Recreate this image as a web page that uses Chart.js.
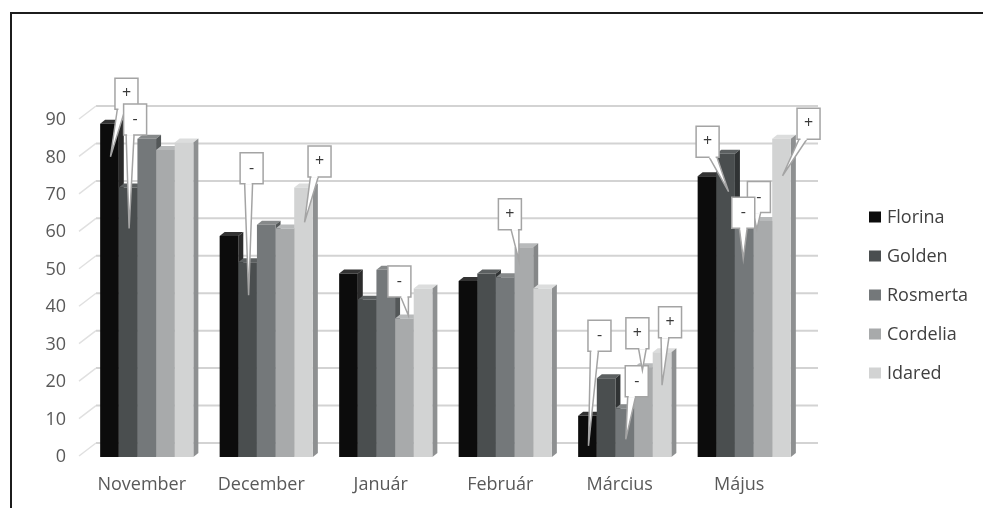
<!DOCTYPE html>
<html>
<head>
<meta charset="utf-8">
<script src="https://cdn.jsdelivr.net/npm/chart.js@4/dist/chart.umd.min.js"></script>
<style>
  html, body { margin: 0; padding: 0; background: #ffffff; }
  #wrap { width: 983px; height: 508px; position: relative; }
</style>
</head>
<body>
<div id="wrap"><canvas id="c" width="983" height="508"></canvas></div>
<script>
// Monthly values per apple variety
const categories = ['November', 'December', 'Január', 'Február', 'Március', 'Május'];
const seriesNames = ['Florina', 'Golden', 'Rosmerta', 'Cordelia', 'Idared'];
const florina  = [89, 59, 49, 47, 11, 75];
const golden   = [72, 52, 42, 49, 21, 81];
const rosmerta = [85, 62, 50, 48, 13, 66];
const cordelia = [82, 61, 37, 56, 24, 63];
const idared   = [84, 72, 45, 45, 28, 85];
const yTicks   = [0, 10, 20, 30, 40, 50, 60, 70, 80, 90];

// Significance markers: [category index, series index, sign]
const markers = [
  [0, 0, '+'], [0, 1, '-'],
  [1, 1, '-'], [1, 4, '+'],
  [2, 3, '-'],
  [3, 3, '+'],
  [4, 0, '-'], [4, 2, '-'], [4, 3, '+'], [4, 4, '+'],
  [5, 3, '-'], [5, 2, '-'], [5, 1, '+'], [5, 4, '+']
];
// Callout placement relative to the bar top: box centre and pointer tip (px)
const markerLayout = [
  { box: [17, -30], tip: [1, 33] },  { box: [7, -68], tip: [1, 41] },
  { box: [4, -94], tip: [1, 33] },   { box: [16, -26], tip: [1, 35] },
  { box: [-5, -37], tip: [4, -3] },
  { box: [-14, -33], tip: [-5, 13] },
  { box: [12, -80], tip: [1, 30] },  { box: [12, -27], tip: [1, 31] },
  { box: [-6, -34], tip: [-1, 3] },  { box: [8, -30], tip: [0, 33] },
  { box: [-4, -24], tip: [-6, 8] },  { box: [-1, 3], tip: [-1, 49] },
  { box: [-18, -12], tip: [3, 38] }, { box: [27, -15], tip: [1, 37] }
];

const seriesValues = [florina, golden, rosmerta, cordelia, idared];
const frontColors = ['#0c0c0c', '#4a4e4f', '#74787a', '#a8aaab', '#d2d3d3'];
const sideColors  = ['#2b2b2b', '#303334', '#535758', '#858788', '#8e9091'];
const topColors   = ['#333333', '#5c6061', '#86898a', '#b8babb', '#dcdddd'];

const FONT = "'Open Sans', 'DejaVu Sans', sans-serif";
const DEPTH = { dx: 5, dy: 4 };
const WALL = { dx: 17, dy: 13 };

// White page with the dark frame line on top and left
const framePlugin = {
  id: 'frame',
  beforeDraw(chart) {
    const ctx = chart.ctx;
    ctx.save();
    ctx.fillStyle = '#ffffff';
    ctx.fillRect(0, 0, chart.width, chart.height);
    ctx.strokeStyle = '#1c1c1c';
    ctx.lineWidth = 2;
    ctx.beginPath();
    ctx.moveTo(chart.width, 13);
    ctx.lineTo(11, 13);
    ctx.lineTo(11, chart.height);
    ctx.stroke();
    ctx.restore();
  }
};

// Back-wall gridlines and side-wall slants, then the 3D bar faces
const wallAndDepthPlugin = {
  id: 'wallAndDepth',
  beforeDatasetsDraw(chart) {
    const ctx = chart.ctx;
    const area = chart.chartArea;
    const ys = chart.scales.y;
    ctx.save();
    ys.ticks.forEach(t => {
      const yf = ys.getPixelForValue(t.value) - 1;
      const yb = yf - WALL.dy;
      ctx.strokeStyle = '#d3d3d3';
      ctx.lineWidth = 2;
      ctx.beginPath();
      ctx.moveTo(area.left + 9, yb);
      ctx.lineTo(area.right + 14, yb);
      ctx.stroke();
      ctx.strokeStyle = '#e0e0e0';
      ctx.lineWidth = 1.5;
      ctx.beginPath();
      ctx.moveTo(area.left - 8, yf);
      ctx.lineTo(area.left + 9, yb);
      ctx.stroke();
    });

    const metas = chart.data.datasets.map((d, i) => chart.getDatasetMeta(i));
    for (let c = 0; c < categories.length; c++) {
      for (let s = 0; s < metas.length; s++) {
        const el = metas[s].data[c];
        if (!el) continue;
        const p = el.getProps(['x', 'y', 'base', 'width'], true);
        const l = p.x - p.width / 2, r = p.x + p.width / 2;
        // top face
        ctx.fillStyle = topColors[s];
        ctx.beginPath();
        ctx.moveTo(l, p.y);
        ctx.lineTo(r, p.y);
        ctx.lineTo(r + DEPTH.dx, p.y - DEPTH.dy);
        ctx.lineTo(l + DEPTH.dx, p.y - DEPTH.dy);
        ctx.closePath();
        ctx.fill();
        // right side face
        ctx.fillStyle = sideColors[s];
        ctx.beginPath();
        ctx.moveTo(r, p.y);
        ctx.lineTo(r + DEPTH.dx, p.y - DEPTH.dy);
        ctx.lineTo(r + DEPTH.dx, p.base - DEPTH.dy);
        ctx.lineTo(r, p.base);
        ctx.closePath();
        ctx.fill();
      }
    }
    ctx.restore();
  }
};

// Callout boxes holding the +/- markers
const markerPlugin = {
  id: 'markers',
  afterDatasetsDraw(chart) {
    const ctx = chart.ctx;
    const bw = 23, bh = 31;
    ctx.save();
    markers.forEach((m, i) => {
      const el = chart.getDatasetMeta(m[1]).data[m[0]];
      const lay = markerLayout[i];
      const bx = el.x + lay.box[0], by = el.y + lay.box[1];
      const tx = el.x + lay.tip[0], ty = el.y + lay.tip[1];
      const baseY = by + bh / 2;
      const shift = Math.max(-5, Math.min(5, tx - bx));
      const b1 = bx + shift - 4, b2 = bx + shift + 4;
      ctx.lineJoin = 'miter';
      // pointer
      ctx.fillStyle = '#ffffff';
      ctx.strokeStyle = '#a4a4a4';
      ctx.lineWidth = 1.5;
      ctx.beginPath();
      ctx.moveTo(b1, baseY - 1);
      ctx.lineTo(tx, ty);
      ctx.lineTo(b2, baseY - 1);
      ctx.closePath();
      ctx.fill();
      ctx.stroke();
      // box
      ctx.beginPath();
      ctx.rect(bx - bw / 2, by - bh / 2, bw, bh);
      ctx.fill();
      ctx.stroke();
      // join the pointer into the box
      ctx.fillStyle = '#ffffff';
      ctx.fillRect(b1 + 1, baseY - 2, b2 - b1 - 2, 3);
      // sign
      ctx.fillStyle = '#3a3a3a';
      ctx.font = '16px ' + FONT;
      ctx.textAlign = 'center';
      ctx.textBaseline = 'middle';
      ctx.fillText(m[2], bx, by);
    });
    ctx.restore();
  }
};

// Legend to the right of the plot
const sideLegendPlugin = {
  id: 'sideLegend',
  afterDraw(chart) {
    const ctx = chart.ctx;
    const area = chart.chartArea;
    const mid = (area.top + area.bottom) / 2 + 7;
    const x = area.right + 65;
    ctx.save();
    ctx.font = '18px ' + FONT;
    ctx.textBaseline = 'middle';
    ctx.textAlign = 'left';
    chart.data.datasets.forEach((ds, i) => {
      const yc = mid + (i - 2) * 39;
      ctx.fillStyle = ds.backgroundColor;
      ctx.fillRect(x, yc - 6, 12, 11);
      ctx.fillStyle = '#404040';
      ctx.fillText(ds.label, x + 18, yc);
    });
    ctx.restore();
  }
};

new Chart(document.getElementById('c'), {
  type: 'bar',
  data: {
    labels: categories,
    datasets: seriesNames.map((name, i) => ({
      label: name,
      data: seriesValues[i],
      backgroundColor: frontColors[i],
      borderWidth: 0,
      categoryPercentage: 0.78,
      barPercentage: 1.0
    }))
  },
  options: {
    responsive: false,
    animation: false,
    layout: { padding: { top: 120, right: 179, bottom: 0, left: 0 } },
    plugins: {
      legend: { display: false },
      tooltip: { enabled: false }
    },
    scales: {
      x: {
        grid: { display: false, drawTicks: false },
        border: { display: false },
        ticks: { color: '#595959', font: { family: FONT, size: 18 }, padding: 17, labelOffset: -5, maxRotation: 0 },
        afterFit(s) { s.height = 51; }
      },
      y: {
        min: 0,
        max: 90,
        grid: { display: false, drawTicks: false },
        border: { display: false },
        afterBuildTicks(s) { s.ticks = yTicks.map(v => ({ value: v })); },
        ticks: { color: '#595959', font: { family: FONT, size: 18 }, padding: 21 },
        afterFit(s) { s.width = 87; }
      }
    }
  },
  plugins: [framePlugin, wallAndDepthPlugin, markerPlugin, sideLegendPlugin]
});
</script>
</body>
</html>
